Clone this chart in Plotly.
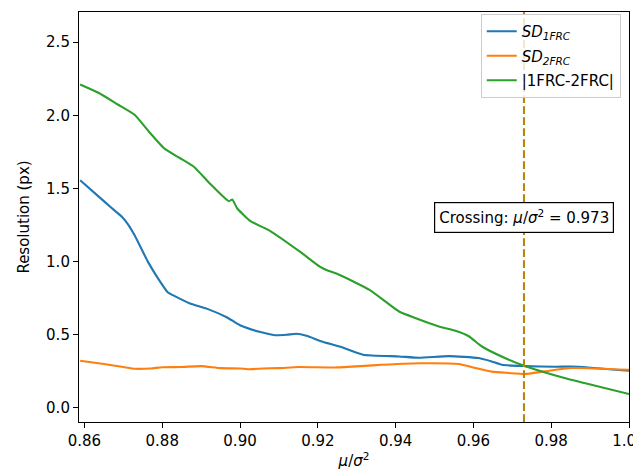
import plotly.graph_objects as go

# ---- data ----
green_x = [0.8589, 0.8636, 0.8687, 0.8729, 0.8763, 0.8806, 0.8840, 0.8852, 0.8882,
           0.8925, 0.8971, 0.8980, 0.8993, 0.9027, 0.9078, 0.9154, 0.9205, 0.9222,
           0.9256, 0.9333, 0.9409, 0.9452, 0.9511, 0.9554, 0.9588, 0.9622, 0.9681,
           0.9732, 0.9834, 0.9885, 1.0000]
green_y = [2.211, 2.154, 2.072, 2.004, 1.897, 1.772, 1.716, 1.697, 1.647,
           1.527, 1.413, 1.425, 1.363, 1.277, 1.209, 1.068, 0.966, 0.943,
           0.909, 0.807, 0.659, 0.613, 0.557, 0.527, 0.490, 0.420, 0.341,
           0.286, 0.204, 0.170, 0.095]

blue_x = [0.8589, 0.8636, 0.8670, 0.8695, 0.8712, 0.8729, 0.8763, 0.8789, 0.8814,
          0.8831, 0.8870, 0.8916, 0.8967, 0.9000, 0.9050, 0.9090, 0.9120, 0.9145,
          0.9171, 0.9210, 0.9256, 0.9316, 0.9409, 0.9460, 0.9537, 0.9613, 0.9647,
          0.9673, 0.9732, 0.9809, 0.9868, 1.0000]
blue_y = [1.556, 1.446, 1.366, 1.310, 1.255, 1.180, 1.000, 0.886, 0.791,
          0.766, 0.716, 0.677, 0.618, 0.565, 0.520, 0.497, 0.500, 0.507,
          0.493, 0.455, 0.420, 0.364, 0.352, 0.343, 0.354, 0.341, 0.318,
          0.295, 0.286, 0.282, 0.282, 0.254]

orange_x = [0.8589, 0.8650, 0.8700, 0.8730, 0.8770, 0.8800, 0.8850, 0.8900, 0.8950,
            0.9000, 0.9020, 0.9060, 0.9100, 0.9150, 0.9248, 0.9341, 0.9460, 0.9562,
            0.9605, 0.9647, 0.9690, 0.9732, 0.9783, 0.9851, 1.0000]
orange_y = [0.323, 0.300, 0.280, 0.268, 0.270, 0.278, 0.280, 0.286, 0.272,
            0.270, 0.265, 0.270, 0.272, 0.280, 0.277, 0.291, 0.305, 0.300,
            0.273, 0.248, 0.239, 0.232, 0.250, 0.273, 0.261]

crossing = 0.973
x_ticks = [0.86, 0.88, 0.90, 0.92, 0.94, 0.96, 0.98, 1.00]
y_ticks = [0.0, 0.5, 1.0, 1.5, 2.0, 2.5]

FONT = "DejaVu Sans"
FS = 15

fig = go.Figure()
fig.add_trace(go.Scatter(x=blue_x, y=blue_y, mode="lines", legendgroup="a",
                         name="<i>SD</i><sub><i>1FRC</i></sub>",
                         line=dict(color="#1f77b4", width=2.1, shape="spline", smoothing=0.5)))
fig.add_trace(go.Scatter(x=orange_x, y=orange_y, mode="lines", legendgroup="b",
                         name="<i>SD</i><sub><i>2FRC</i></sub>",
                         line=dict(color="#ff7f0e", width=2.1, shape="spline", smoothing=0.5)))
fig.add_trace(go.Scatter(x=green_x, y=green_y, mode="lines", legendgroup="c",
                         name="|1FRC-2FRC|",
                         line=dict(color="#2ca02c", width=2.1, shape="spline", smoothing=0.5)))

fig.add_shape(type="line", x0=crossing, x1=crossing, xref="x", yref="paper",
              y0=0, y1=1, line=dict(color="#b8860b", width=2.1, dash="7.7px,3.3px"))

fig.add_annotation(x=crossing, y=1.3, xref="x", yref="y",
                   text="Crossing: <i>μ</i>/<i>σ</i><sup>2</sup> = 0.973",
                   showarrow=False, font=dict(family=FONT, size=FS, color="black"),
                   bgcolor="white", bordercolor="black", borderwidth=1.2, borderpad=4)

axis_common = dict(showgrid=False, zeroline=False, showline=True, linecolor="black",
                   linewidth=1.1, mirror=True, ticks="outside", ticklen=5, tickwidth=1.1,
                   tickcolor="black", tickfont=dict(family=FONT, size=FS, color="black"))

fig.update_xaxes(range=[0.8586, 1.0], tickvals=x_ticks, tickformat=".2f",
                 ticklabeloverflow="allow",
                 title=dict(text="<i>μ</i>/<i>σ</i><sup>2</sup>",
                            font=dict(family=FONT, size=FS, color="black"), standoff=6),
                 **axis_common)
fig.update_yaxes(range=[-0.096, 2.706], tickvals=y_ticks, tickformat=".1f",
                 title=dict(text="Resolution (px)",
                            font=dict(family=FONT, size=FS, color="black"), standoff=12),
                 **axis_common)

fig.update_layout(
    width=641, height=473,
    margin=dict(l=71, r=16, t=3, b=59),
    paper_bgcolor="white", plot_bgcolor="white",
    font=dict(family=FONT, size=FS, color="black"),
    showlegend=True,
    legend=dict(x=0.985, y=0.995, xanchor="right", yanchor="top",
                bgcolor="rgba(255,255,255,0.8)", bordercolor="#cccccc", borderwidth=1,
                font=dict(family=FONT, size=FS, color="black"),
                tracegroupgap=2, itemwidth=30),
)

fig.write_html("out.html")
